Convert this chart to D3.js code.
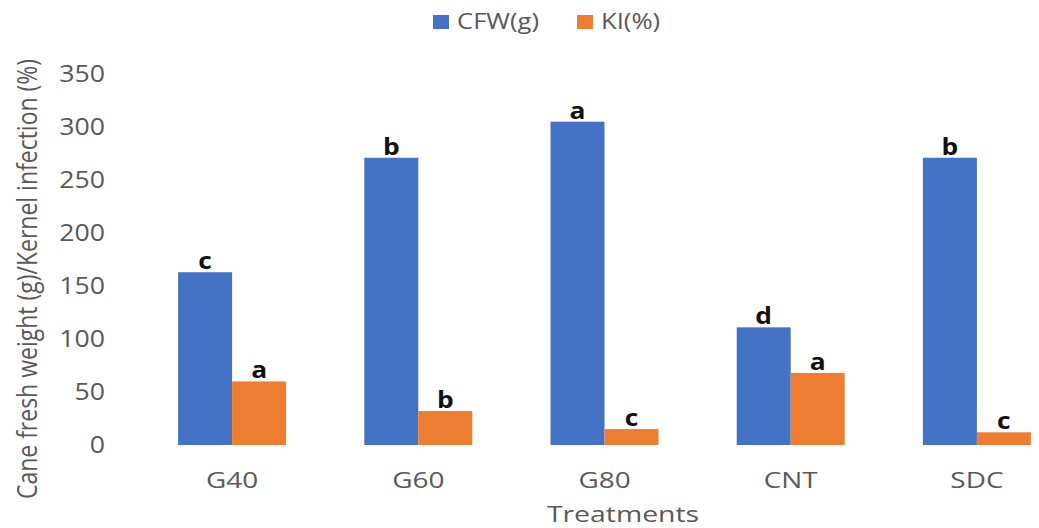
<!DOCTYPE html>
<html><head><meta charset="utf-8">
<script src="https://cdn.jsdelivr.net/npm/d3@7"></script>
<style>body{margin:0;background:#fff;overflow:hidden}</style>
</head><body>
<svg id="c" width="1039" height="528"></svg>
<script>
const categories = ["G40", "G60", "G80", "CNT", "SDC"];
const seriesNames = ["CFW(g)", "KI(%)"];
const cfw = [163, 271, 305, 111, 271];
const ki = [60, 32, 15, 68, 12];
const cfwLetters = ["c", "b", "a", "d", "b"];
const kiLetters = ["a", "b", "c", "a", "c"];
const yTicks = [0, 50, 100, 150, 200, 250, 300, 350];
const colors = ["#4472C4", "#ED7D31"];

const svg = d3.select("#c");
const font = "'Open Sans', sans-serif";
const grey = "#595959";
const x0 = d3.scaleBand().domain(categories).range([139, 1070]).paddingInner(0.42).paddingOuter(0.21);
const x1 = d3.scaleBand().domain(seriesNames).range([0, x0.bandwidth()]);
const y = d3.scaleLinear().domain([0, 350]).range([445, 74]);

const data = categories.map((c, i) => ({cat: c, vals: [
  {s: seriesNames[0], v: cfw[i], l: cfwLetters[i], k: 0},
  {s: seriesNames[1], v: ki[i], l: kiLetters[i], k: 1}]}));

// y axis
const ya = svg.append("g").attr("transform", "translate(105,0)")
  .call(d3.axisLeft(y).tickValues(yTicks).tickSize(0).tickPadding(0));
ya.select(".domain").remove();
ya.selectAll("text").attr("font-family", font).attr("font-size", 23).attr("fill", grey)
  .attr("transform", "scale(1.16,1)");

// x axis
const xa = svg.append("g").attr("transform", "translate(0,445)")
  .call(d3.axisBottom(x0).tickSize(0));
xa.select(".domain").remove();
xa.selectAll("text").attr("font-family", font).attr("font-size", 22).attr("fill", grey)
  .attr("y", 43).attr("dy", 0).attr("transform", "scale(1.27,1)");

const g = svg.selectAll(".grp").data(data).enter().append("g")
  .attr("transform", d => `translate(${x0(d.cat)},0)`);
g.selectAll("rect").data(d => d.vals).enter().append("rect")
  .attr("x", d => x1(d.s)).attr("width", x1.bandwidth())
  .attr("y", d => y(d.v)).attr("height", d => y(0) - y(d.v))
  .attr("fill", d => colors[d.k]);
g.selectAll("text.lbl").data(d => d.vals).enter().append("text").attr("class", "lbl")
  .attr("transform", d => `translate(${x1(d.s) + x1.bandwidth() / 2},${y(d.v) - 3}) scale(1.1,1)`)
  .attr("text-anchor", "middle").attr("font-family", font).attr("font-weight", "bold")
  .attr("font-size", 24).attr("fill", "#111").text(d => d.l);

// axis titles
svg.append("text").attr("transform", "translate(623,522) scale(1.29,1)").attr("text-anchor", "middle")
  .attr("font-family", font).attr("font-size", 22).attr("fill", grey).text("Treatments");
svg.append("text").attr("transform", "translate(37,279) scale(1.2,1) rotate(-90)").attr("text-anchor", "middle")
  .attr("font-family", font).attr("font-size", 23).attr("fill", grey)
  .text("Cane fresh weight (g)/Kernel infection (%)");

// legend
const leg = svg.append("g");
const legX = [433, 577];
seriesNames.forEach((s, i) => {
  leg.append("rect").attr("x", legX[i]).attr("y", 15).attr("width", 16).attr("height", 14).attr("fill", colors[i]);
  leg.append("text").attr("transform", `translate(${legX[i] + 24},29) scale(1.22,1)`).attr("font-family", font)
    .attr("font-size", 21).attr("fill", grey).text(s);
});
</script>
</body></html>
